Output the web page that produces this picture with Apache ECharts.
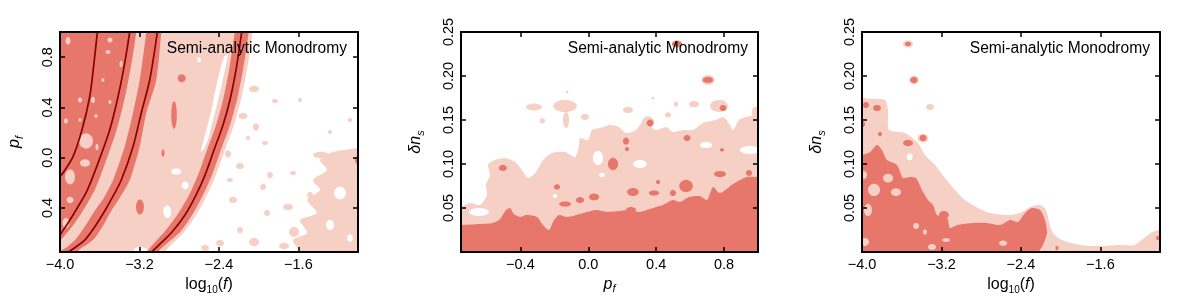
<!DOCTYPE html>
<html><head><meta charset="utf-8">
<script src="https://cdn.jsdelivr.net/npm/echarts/dist/echarts.min.js"></script>
<style>html,body{margin:0;padding:0;background:#fff}#c{width:1200px;height:299px}</style>
</head><body><div id="c"></div><script>
// ---------- tick labels ----------
const fTicks = [-4.0, -3.2, -2.4, -1.6];
const fLabels = ['\u22124.0', '\u22123.2', '\u22122.4', '\u22121.6'];
const pfTicksY = [-0.4, 0.0, 0.4, 0.8];
const pfLabelsY = ['0.4', '0.0', '0.4', '0.8'];
const pfTicksX = [-0.4, 0.0, 0.4, 0.8];
const pfLabelsX = ['\u22120.4', '0.0', '0.4', '0.8'];
const nsTicks = [0.05, 0.10, 0.15, 0.20, 0.25];
const nsLabels = ['0.05', '0.10', '0.15', '0.20', '0.25'];
const panelLabel = 'Semi-analytic Monodromy';

// ---------- panel 1: log10(f) vs p_f ----------
const p1LineA = [[-3.624,1.0],[-3.658,0.753],[-3.701,0.485],[-3.779,0.220],[-3.869,0.008],[-3.970,-0.122],[-4.0,-0.149]];
const p1LineB = [[-3.298,1.0],[-3.349,0.751],[-3.416,0.485],[-3.500,0.220],[-3.617,-0.042],[-3.725,-0.257],[-3.819,-0.390],[-3.919,-0.519],[-3.987,-0.599],[-4.0,-0.619]];
const p1LineC = [[-3.020,1.0],[-3.097,0.618],[-3.182,0.356],[-3.265,0.088],[-3.383,-0.177],[-3.477,-0.321],[-3.550,-0.424],[-3.658,-0.559],[-3.751,-0.655],[-3.916,-0.75]];
const p1LineD = [[-2.171,1.0],[-2.228,0.698],[-2.289,0.459],[-2.359,0.260],[-2.450,0.061],[-2.540,-0.138],[-2.631,-0.297],[-2.742,-0.456],[-2.872,-0.591],[-2.993,-0.686],[-3.077,-0.75]];

const p1LightRegions = [
  [[-4.1,1.05],[-2.06,1.05],[-2.06,1.0],[-2.118,0.698],[-2.179,0.459],[-2.249,0.260],[-2.34,0.061],[-2.43,-0.138],[-2.52,-0.297],[-2.63,-0.456],[-2.75,-0.591],[-2.87,-0.686],[-2.95,-0.75],[-2.99,-0.80],[-4.1,-0.80]],
  [[-0.95,0.077],[-1.0,0.077],[-1.252,0.045],[-1.383,-0.018],[-1.312,-0.098],[-1.453,-0.177],[-1.383,-0.257],[-1.513,-0.336],[-1.413,-0.440],[-1.584,-0.496],[-1.513,-0.599],[-1.654,-0.655],[-1.584,-0.75],[-1.58,-0.80],[-0.95,-0.80]]
];
const p1LightBlobs = [
  [-2.047,0.547,0.05,0.025],[-1.836,0.451,0.03,0.016],[-2.158,0.332,0.045,0.025],[-2.027,0.244,0.03,0.03],
  [-2.107,0.157,0.02,0.016],[-1.936,0.117,0.03,0.016],[-2.309,0.030,0.03,0.03],[-1.373,0.022,0.08,0.025],
  [-1.282,0.204,0.02,0.016],[-1.322,-0.138,0.03,0.025],[-2.188,-0.066,0.04,0.025],[-1.886,-0.138,0.03,0.025],
  [-2.289,-0.177,0.03,0.016],[-1.705,-0.392,0.05,0.025],[-1.644,-0.591,0.05,0.04],[-1.745,-0.702,0.05,0.025],
  [-2.047,-0.671,0.05,0.032],[-1.956,-0.233,0.03,0.025],[-2.258,-0.336,0.04,0.025],[-2.389,-0.679,0.04,0.025],
  [-2.188,-0.575,0.03,0.025],[-2.540,-0.718,0.04,0.025],[-1.654,-0.122,0.03,0.016],[-1.916,-0.440,0.03,0.025],
  [-1.483,-0.297,0.03,0.025],[-1.081,0.300,0.02,0.016],[-1.584,0.459,0.02,0.016]
];
const p1WhiteRegions = [
  [[-2.31,0.82],[-2.34,0.70],[-2.38,0.55],[-2.41,0.45],[-2.46,0.30],[-2.50,0.17],[-2.55,0.07],[-2.58,0.05],[-2.55,0.15],[-2.51,0.27],[-2.47,0.40],[-2.44,0.52],[-2.40,0.66],[-2.35,0.80]]
];
const p1WhiteBlobs = [
  [-2.83,-0.11,0.05,0.025],[-2.92,-0.43,0.04,0.05],[-2.74,-0.22,0.035,0.03],[-3.19,-0.74,0.07,0.03],
  [-2.60,0.78,0.02,0.02],[-1.181,-0.281,0.06,0.05],[-1.282,-0.535,0.04,0.04],[-1.081,-0.639,0.03,0.03]
];
const p1DarkRegions = [
  [[-4.1,1.05],[-3.232,1.05],[-3.232,1.0],[-3.28,0.751],[-3.345,0.485],[-3.43,0.220],[-3.545,-0.042],[-3.65,-0.257],[-3.745,-0.390],[-3.85,-0.519],[-3.93,-0.599],[-4.0,-0.66],[-4.1,-0.70]],
  [[-3.131,1.05],[-3.131,1.0],[-3.198,0.618],[-3.265,0.356],[-3.349,0.088],[-3.466,-0.177],[-3.56,-0.321],[-3.651,-0.424],[-3.76,-0.559],[-3.849,-0.655],[-3.93,-0.71],[-4.05,-0.77],[-4.05,-0.80],[-3.80,-0.80],[-3.83,-0.75],[-3.668,-0.655],[-3.58,-0.559],[-3.484,-0.424],[-3.40,-0.321],[-3.298,-0.177],[-3.198,0.088],[-3.131,0.356],[-3.031,0.618],[-2.980,1.0],[-2.975,1.05]],
  [[-2.241,1.05],[-2.241,1.0],[-2.298,0.698],[-2.359,0.459],[-2.429,0.260],[-2.52,0.061],[-2.61,-0.138],[-2.70,-0.297],[-2.82,-0.456],[-2.95,-0.591],[-3.06,-0.686],[-3.13,-0.75],[-3.17,-0.80],[-2.97,-0.80],[-3.01,-0.75],[-2.93,-0.686],[-2.79,-0.591],[-2.67,-0.456],[-2.56,-0.297],[-2.47,-0.138],[-2.38,0.061],[-2.289,0.260],[-2.219,0.459],[-2.158,0.698],[-2.10,1.0],[-2.10,1.05]]
];
const p1DarkHoles = [
  [-3.92,0.93,0.025,0.03],[-3.497,0.936,0.025,0.02],[-3.517,0.841,0.025,0.015],[-3.386,0.745,0.015,0.025],
  [-3.668,0.459,0.02,0.025],[-3.497,0.443,0.015,0.015],[-3.940,0.292,0.02,0.02],[-3.638,0.332,0.015,0.015],
  [-3.406,0.220,0.015,0.025],[-3.738,0.133,0.07,0.06],[-3.748,-0.042,0.05,0.03],[-3.628,0.085,0.015,0.025],
  [-3.899,-0.153,0.05,0.06],[-3.899,-0.336,0.035,0.025],[-3.940,-0.519,0.035,0.04],[-3.799,0.300,0.015,0.015],
  [-3.567,0.618,0.015,0.015],[-3.799,0.459,0.02,0.02]
];
const p1DarkBlobs = [
  [-2.775,0.632,0.04,0.032],[-2.852,0.340,0.028,0.11],[-2.963,0.037,0.015,0.03],[-3.195,-0.392,0.04,0.06],[-1.010,-0.018,0.02,0.03]
];

// ---------- panel 2: p_f vs delta n_s ----------
const p2LightRegions = [
  [[-0.8,-0.01],[-0.8,0.0511],[-0.75,0.0511],[-0.697,0.0557],[-0.638,0.0534],[-0.597,0.0648],[-0.603,0.0761],[-0.579,0.0875],[-0.591,0.0989],[-0.550,0.1045],[-0.491,0.1068],[-0.432,0.1023],[-0.391,0.0932],[-0.355,0.0841],[-0.308,0.0909],[-0.267,0.1045],[-0.214,0.1125],[-0.137,0.1136],[-0.078,0.1080],[-0.055,0.1205],[-0.049,0.1295],[-0.002,0.1273],[0.022,0.1386],[0.069,0.1409],[0.128,0.1443],[0.181,0.1420],[0.222,0.1352],[0.281,0.1386],[0.322,0.1477],[0.399,0.1386],[0.458,0.1420],[0.499,0.1364],[0.558,0.1386],[0.617,0.1386],[0.675,0.1466],[0.752,0.1500],[0.794,0.1534],[0.829,0.1466],[0.853,0.1386],[0.888,0.1500],[0.929,0.1534],[1.0,0.1557],[1.05,0.1557],[1.05,-0.01]]
];
const p2LightBlobs = [
  [-0.320,0.1648,0.047,0.004],[-0.137,0.1659,0.07,0.0068],[-0.131,0.150,0.018,0.009],[-0.019,0.1534,0.024,0.0035],
  [0.234,0.1614,0.03,0.0035],[0.470,0.1557,0.018,0.003],[0.623,0.168,0.03,0.0035],[0.770,0.166,0.053,0.0068],
  [0.705,0.1955,0.04,0.0055],[0.523,0.2364,0.03,0.0045],[0.352,0.1477,0.035,0.0065],[0.988,0.159,0.025,0.006],
  [-0.125,0.182,0.008,0.0015],[0.381,0.175,0.008,0.0015],[0.517,0.168,0.012,0.003],[-0.27,0.149,0.015,0.003]
];
const p2WhiteBlobs = [
  [-0.644,0.0455,0.059,0.0045],[0.057,0.1068,0.03,0.008],[0.305,0.100,0.04,0.0045],[0.953,0.1159,0.06,0.0045],
  [0.081,0.0875,0.018,0.0025],[0.694,0.1216,0.035,0.0035],[-0.196,0.0636,0.012,0.0023]
];
const p2DarkRegions = [
  [[-0.8,-0.01],[-0.8,0.0307],[-0.75,0.0307],[-0.638,0.0318],[-0.561,0.0330],[-0.520,0.0375],[-0.485,0.0477],[-0.461,0.0500],[-0.438,0.0432],[-0.402,0.0398],[-0.367,0.0420],[-0.302,0.0398],[-0.267,0.0307],[-0.231,0.0250],[-0.208,0.0341],[-0.173,0.0420],[-0.125,0.0398],[-0.049,0.0432],[0.045,0.0477],[0.110,0.0455],[0.187,0.0466],[0.228,0.0477],[0.299,0.0455],[0.364,0.0489],[0.399,0.0511],[0.440,0.0534],[0.499,0.0591],[0.540,0.0568],[0.593,0.0625],[0.658,0.0636],[0.700,0.0591],[0.735,0.0739],[0.776,0.0670],[0.853,0.0773],[0.894,0.0818],[0.935,0.0852],[1.0,0.0852],[1.05,0.0852],[1.05,-0.01]]
];
const p2DarkBlobs = [
  [-0.503,0.0955,0.024,0.0034],[-0.184,0.0739,0.018,0.003],[-0.137,0.0545,0.035,0.003],[0.034,0.0625,0.03,0.004],
  [0.146,0.100,0.03,0.007],[0.364,0.1466,0.02,0.004],[0.222,0.126,0.018,0.004],[0.228,0.117,0.012,0.0023],
  [0.582,0.1295,0.02,0.0034],[0.705,0.1955,0.03,0.0034],[0.794,0.1636,0.02,0.0034],[0.788,0.116,0.012,0.002],
  [0.523,0.2364,0.03,0.0034],[0.263,0.0682,0.035,0.0045],[0.387,0.067,0.03,0.003],[0.576,0.075,0.04,0.007],
  [0.776,0.0886,0.035,0.0034],[0.252,0.0477,0.03,0.0034],[0.947,0.0898,0.018,0.0034],[-0.049,0.059,0.024,0.0034],
  [0.411,0.0795,0.012,0.0023],[0.499,0.067,0.018,0.0034],[0.87,0.0727,0.04,0.004]
];

// ---------- panel 3: log10(f) vs delta n_s ----------
const p3LightRegions = [
  [[-4.1,-0.01],[-4.1,0.175],[-4.0,0.175],[-3.869,0.1739],[-3.768,0.1727],[-3.738,0.1614],[-3.728,0.1386],[-3.567,0.1352],[-3.436,0.1239],[-3.366,0.1102],[-3.265,0.0989],[-3.164,0.0841],[-3.064,0.0705],[-2.963,0.0591],[-2.832,0.0500],[-2.711,0.0443],[-2.510,0.0420],[-2.389,0.0455],[-2.309,0.0511],[-2.208,0.0534],[-2.148,0.0477],[-2.117,0.0341],[-2.077,0.0216],[-1.987,0.0136],[-1.805,0.008],[-1.604,0.0068],[-1.403,0.008],[-1.258,0.008],[-1.147,0.017],[-1.077,0.0227],[-1.0,0.025],[-0.95,0.025],[-0.95,-0.01]]
];
const p3LightBlobs = [
  [-3.537,0.2364,0.05,0.004],[-3.477,0.1955,0.05,0.005],[-3.315,0.1648,0.04,0.0035],[-3.386,0.1295,0.055,0.005]
];
const p3WhiteBlobs = [
  [-3.52,0.108,0.03,0.004]
];
const p3DarkRegions = [
  [[-4.1,-0.01],[-4.1,0.1102],[-4.0,0.1102],[-3.919,0.1136],[-3.849,0.1216],[-3.799,0.1159],[-3.748,0.1045],[-3.648,0.0989],[-3.587,0.0841],[-3.517,0.0852],[-3.456,0.0841],[-3.396,0.0705],[-3.336,0.0591],[-3.285,0.0534],[-3.245,0.0420],[-3.144,0.0386],[-3.114,0.0273],[-3.044,0.0307],[-2.883,0.0330],[-2.742,0.0330],[-2.611,0.0307],[-2.510,0.0364],[-2.430,0.0341],[-2.359,0.0443],[-2.289,0.0500],[-2.208,0.0477],[-2.158,0.0364],[-2.138,0.0216],[-2.178,0.008],[-2.258,-0.005],[-2.30,-0.01]]
];
const p3DarkHoles = [
  [-3.980,0.0875,0.03,0.0045],[-3.879,0.0705,0.06,0.007],[-3.658,0.068,0.05,0.0045],[-3.940,0.0477,0.04,0.007],
  [-3.456,0.0295,0.03,0.0034],[-3.970,0.0114,0.04,0.0045],[-3.295,0.0057,0.04,0.0034],[-3.738,0.084,0.05,0.005],
  [-3.366,0.0227,0.02,0.003],[-3.154,0.0136,0.04,0.002],[-2.58,0.010,0.04,0.003]
];
const p3DarkBlobs = [
  [-3.537,0.2364,0.03,0.0025],[-3.477,0.1955,0.035,0.0035],[-3.386,0.1295,0.035,0.0035],[-3.537,0.1239,0.05,0.0035],
  [-3.960,0.167,0.03,0.0035],[-3.849,0.1636,0.04,0.0035],[-3.99,0.1455,0.02,0.0035],[-3.819,0.134,0.02,0.0025],
  [-3.175,0.042,0.05,0.0045],[-1.020,0.0159,0.02,0.0025],[-2.037,0.0045,0.015,0.0025]
];

// ---------- styles ----------
const DARK = '#e8776b', LIGHT = '#f7d0c5', WHITE = '#ffffff', LINE = '#8b0000';
const FONT = '"Liberation Sans", Arial, Helvetica, sans-serif';

function polySeries(gi, polys, color) {
  return {
    type: 'custom', xAxisIndex: gi * 2, yAxisIndex: gi * 2, clip: true, silent: true,
    data: polys.map(p => p[0]),
    renderItem: (params, api) => ({
      type: 'polygon',
      shape: { points: polys[params.dataIndex].map(v => api.coord(v)), smooth: 0.25 },
      style: { fill: color }
    })
  };
}
function blobSeries(gi, blobs, color) {
  return {
    type: 'custom', xAxisIndex: gi * 2, yAxisIndex: gi * 2, clip: true, silent: true,
    data: blobs.map(b => [b[0], b[1]]),
    renderItem: (params, api) => {
      const b = blobs[params.dataIndex];
      const c = api.coord([b[0], b[1]]);
      const s = api.size([b[2], b[3]]);
      const pts = [];
      for (let k = 0; k < 20; k++) {
        const t = 2 * Math.PI * k / 20;
        pts.push([c[0] + s[0] * Math.cos(t), c[1] + s[1] * Math.sin(t)]);
      }
      return { type: 'polygon', shape: { points: pts, smooth: 0.3 }, style: { fill: color } };
    }
  };
}
function lineSeries(gi, pts) {
  return {
    type: 'line', xAxisIndex: gi * 2, yAxisIndex: gi * 2, data: pts, showSymbol: false, symbol: 'none',
    smooth: 0.3, silent: true, clip: true, lineStyle: { color: LINE, width: 1.7 }, z: 20
  };
}
function pick(ticks, labels) {
  return v => { const i = ticks.findIndex(t => Math.abs(t - v) < 1e-6); return i < 0 ? '' : labels[i]; };
}
const rich = {
  n: { fontSize: 16, fontFamily: FONT, color: '#000', lineHeight: 20 },
  i: { fontSize: 16, fontFamily: FONT, fontStyle: 'italic', color: '#000', lineHeight: 20 },
  s: { fontSize: 10, fontFamily: FONT, color: '#000', lineHeight: 10, verticalAlign: 'bottom' },
  si: { fontSize: 11, fontFamily: FONT, fontStyle: 'italic', color: '#000', lineHeight: 10, verticalAlign: 'bottom' }
};
const logName = '{n|log}{s|10}{n|(}{i|f}{n|)}';
const pfName = '{i|p}{si|f}';
const nsName = '{i|\u03b4n}{si|s}';

function axisCommon(gi, min, max, ticks) {
  return {
    type: 'value', gridIndex: gi, min, max, z: 50,
    axisLine: { show: true, onZero: false, lineStyle: { color: '#000', width: 2 } },
    splitLine: { show: false },
    axisTick: { show: true, inside: true, length: 5, customValues: ticks, lineStyle: { color: '#000', width: 1.5 } }
  };
}
function xAxes(gi, min, max, ticks, labels, name) {
  return [
    Object.assign(axisCommon(gi, min, max, ticks), {
      position: 'bottom', name, nameLocation: 'middle', nameGap: 19,
      nameTextStyle: { rich },
      axisLabel: { show: true, customValues: ticks, formatter: pick(ticks, labels), margin: 5, fontSize: 14.5, fontFamily: FONT, color: '#000' }
    }),
    Object.assign(axisCommon(gi, min, max, ticks), { position: 'top', axisLabel: { show: false } })
  ];
}
function yAxes(gi, min, max, ticks, labels, name) {
  return [
    Object.assign(axisCommon(gi, min, max, ticks), {
      position: 'left', name, nameLocation: 'middle', nameGap: 35, nameRotate: 90,
      nameTextStyle: { rich },
      axisLabel: { show: true, customValues: ticks, formatter: pick(ticks, labels), rotate: 90, margin: 5, fontSize: 14.5, fontFamily: FONT, color: '#000' }
    }),
    Object.assign(axisCommon(gi, min, max, ticks), { position: 'right', axisLabel: { show: false } })
  ];
}

const chart = echarts.init(document.getElementById('c'), null, { renderer: 'canvas' });
chart.setOption({
  animation: false,
  backgroundColor: '#fff',
  grid: [
    { left: 60, top: 32, width: 298, height: 220, outerBoundsMode: 'none' },
    { left: 461, top: 32, width: 297, height: 220, outerBoundsMode: 'none' },
    { left: 862, top: 32, width: 298, height: 220, outerBoundsMode: 'none' }
  ],
  xAxis: [
    ...xAxes(0, -4, -1, fTicks, fLabels, logName),
    ...xAxes(1, -0.75, 1.0, pfTicksX, pfLabelsX, pfName),
    ...xAxes(2, -4, -1, fTicks, fLabels, logName)
  ],
  yAxis: [
    ...yAxes(0, -0.75, 1.0, pfTicksY, pfLabelsY, pfName),
    ...yAxes(1, 0, 0.25, nsTicks, nsLabels, nsName),
    ...yAxes(2, 0, 0.25, nsTicks, nsLabels, nsName)
  ],
  graphic: [347, 748, 1150].map(x => ({
    type: 'text', x, y: 49, z: 100, silent: true,
    style: { text: panelLabel, align: 'right', verticalAlign: 'middle', fontSize: 15.6, fontFamily: FONT, fill: '#000' }
  })),
  series: [
    // panel 1
    polySeries(0, p1LightRegions, LIGHT),
    blobSeries(0, p1LightBlobs, LIGHT),
    polySeries(0, p1WhiteRegions, WHITE),
    blobSeries(0, p1WhiteBlobs, WHITE),
    polySeries(0, p1DarkRegions, DARK),
    blobSeries(0, p1DarkHoles, LIGHT),
    blobSeries(0, p1DarkBlobs, DARK),
    lineSeries(0, p1LineA), lineSeries(0, p1LineB), lineSeries(0, p1LineC), lineSeries(0, p1LineD),
    // panel 2
    polySeries(1, p2LightRegions, LIGHT),
    blobSeries(1, p2LightBlobs, LIGHT),
    blobSeries(1, p2WhiteBlobs, WHITE),
    polySeries(1, p2DarkRegions, DARK),
    blobSeries(1, p2DarkBlobs, DARK),
    // panel 3
    polySeries(2, p3LightRegions, LIGHT),
    blobSeries(2, p3LightBlobs, LIGHT),
    blobSeries(2, p3WhiteBlobs, WHITE),
    polySeries(2, p3DarkRegions, DARK),
    blobSeries(2, p3DarkHoles, LIGHT),
    blobSeries(2, p3DarkBlobs, DARK)
  ]
});
</script></body></html>
